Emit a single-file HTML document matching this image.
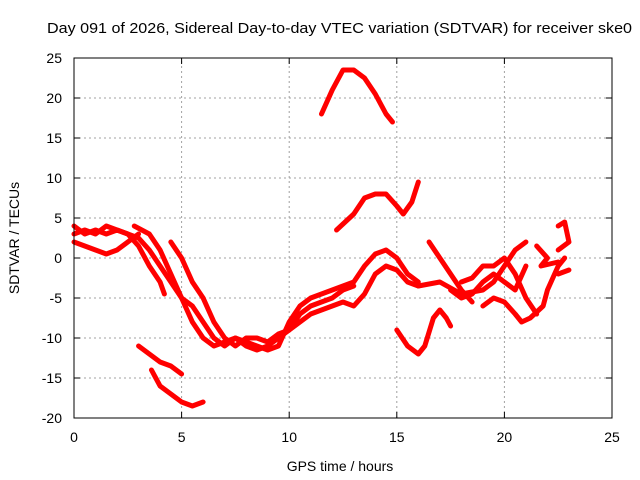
<!DOCTYPE html>
<html><head><meta charset="utf-8"><style>
body{margin:0;background:#fff}
svg{display:block;font-family:"Liberation Sans",sans-serif}
</style></head><body>
<svg id="c" width="640" height="480">
<text x="47" y="33" font-size="15" textLength="585" lengthAdjust="spacingAndGlyphs">Day 091 of 2026, Sidereal Day-to-day VTEC variation (SDTVAR) for receiver ske0</text>
<text x="340" y="471" text-anchor="middle" font-size="14">GPS time / hours</text>
<text transform="translate(19,238) rotate(-90)" text-anchor="middle" font-size="14">SDTVAR / TECUs</text>
<g id="grid"></g><g id="series"></g><g id="axes"></g>
</svg>
<script>
const xTicks=[0,5,10,15,20,25];
const yTicks=[25,20,15,10,5,0,-5,-10,-15,-20];
const s1=[[0,2],[0.5,1.5],[1,1],[1.5,0.5],[2,1],[2.5,2],[3,3]];
const s2=[[0,4],[0.5,3],[1,3.5],[1.5,3],[2,3.5],[2.5,3],[3,2.5],[3.5,1],[4,-1],[4.5,-3],[5,-5],[5.5,-6],[6,-8],[6.5,-10],[7,-11],[7.5,-10],[8,-11],[8.5,-11.5],[9,-11],[9.5,-10],[10,-9],[10.5,-8],[11,-7],[11.5,-6.5],[12,-6],[12.5,-5.5],[13,-6],[13.5,-4.5],[14,-2],[14.5,-1],[15,-1.5],[15.5,-3],[16,-3.5]];
const s3=[[0,3],[0.5,3.5],[1,3],[1.5,4],[2,3.5],[2.5,3],[3,1.5],[3.5,-1],[4,-3],[4.2,-4.5]];
const s4=[[2.8,4],[3.5,3],[4,1],[4.5,-2],[5,-5],[5.5,-8],[6,-10],[6.5,-11],[7,-10.5],[7.5,-10],[8,-10.5],[8.5,-11],[9,-11.5],[9.5,-11],[10,-8],[10.5,-6],[11,-5],[12,-4],[13,-3],[13.5,-1],[14,0.5],[14.5,1],[15,0],[15.5,-2],[16,-3]];
const s5=[[4.5,2],[5,0],[5.5,-3],[6,-5],[6.5,-8],[7,-10],[7.5,-11],[8,-10],[8.5,-10],[9,-10.5],[9.5,-9.5],[10,-9],[10.5,-7],[11,-6],[11.5,-5.5],[12,-5],[12.5,-4],[13,-3.5]];
const s6=[[3,-11],[3.5,-12],[4,-13],[4.5,-13.5],[5,-14.5]];
const s7=[[3.6,-14],[4,-16],[4.5,-17],[5,-18],[5.5,-18.5],[6,-18]];
const s8=[[11.5,18],[12,21],[12.5,23.5],[13,23.5],[13.5,22.5],[14,20.5],[14.5,18],[14.8,17]];
const s9=[[12.2,3.5],[13,5.5],[13.5,7.5],[14,8],[14.5,8],[15,6.5],[15.3,5.5],[15.7,7],[16,9.5]];
const s10=[[15,-9],[15.5,-11],[16,-12],[16.3,-11],[16.7,-7.5],[17,-6.5],[17.3,-7.5],[17.5,-8.5]];
const s11=[[16.5,2],[17,0],[17.5,-2],[18,-4],[18.5,-5.5]];
const s12=[[16,-3.5],[17,-3],[18,-4.5],[19,-4],[19.5,-3],[20,-1],[20.5,1],[21,2]];
const s13=[[18,-3],[18.5,-2.5],[19,-1],[19.5,-1],[20,0],[20.5,-2],[21,-5],[21.5,-7]];
const s14=[[19,-6],[19.5,-5],[20,-5.5],[20.5,-7],[20.8,-8],[21.2,-7.5],[21.8,-6],[22,-4],[22.5,-1],[22.8,0]];
const s15=[[22.5,4],[22.8,4.5],[23,2],[22.5,1]];
const s16=[[21.5,1.5],[22,0],[21.7,-1],[22.5,-0.5]];
const s17=[[22.5,-2],[23,-1.5]];
const s18=[[17.5,-4],[18,-5],[18.5,-4.5],[19,-3],[19.5,-2],[20,-3],[20.5,-4],[21,-1]];
const seriesList=[s1,s2,s3,s4,s5,s6,s7,s8,s9,s10,s11,s12,s13,s14,s15,s16,s17,s18];
const X0=74,X1=612,Y0=418,Y1=58;
const sx=v=>X0+(v-0)/25*(X1-X0);
const sy=v=>Y0-(v+20)/45*(Y0-Y1);
const NS="http://www.w3.org/2000/svg";
const mk=(t,a,p)=>{const e=document.createElementNS(NS,t);for(const k in a)e.setAttribute(k,a[k]);p.appendChild(e);return e;};
const grid=document.getElementById('grid'),axes=document.getElementById('axes'),ser=document.getElementById('series');
xTicks.forEach(t=>{
 if(t>0&&t<25){const l=mk('line',{x1:sx(t),x2:sx(t),y1:Y0,y2:Y1,stroke:'#a0a0a0','stroke-dasharray':'2,3'},grid);
 
 }
 const tx=mk('text',{x:sx(t),y:Y0+24,'text-anchor':'middle','font-size':14},axes);tx.textContent=t;
 
 
 mk('line',{x1:sx(t),x2:sx(t),y1:Y0,y2:Y0-6,stroke:'#000'},axes);
 mk('line',{x1:sx(t),x2:sx(t),y1:Y1,y2:Y1+6,stroke:'#000'},axes);
});
yTicks.forEach(t=>{
 if(t>-20&&t<25){const l=mk('line',{x1:X0,x2:X1,y1:sy(t),y2:sy(t),stroke:'#a0a0a0','stroke-dasharray':'2,3'},grid);
 
 }
 const tx=mk('text',{x:X0-12,y:sy(t)+5,'text-anchor':'end','font-size':14},axes);tx.textContent=t;
 
 
 mk('line',{x1:X0,x2:X0+6,y1:sy(t),y2:sy(t),stroke:'#000'},axes);
 mk('line',{x1:X1,x2:X1-6,y1:sy(t),y2:sy(t),stroke:'#000'},axes);
});
const fr=mk('rect',{x:X0,y:Y1,width:X1-X0,height:Y0-Y1,fill:'none',stroke:'#000'},axes);


seriesList.forEach((s,i)=>{
 const p=mk('polyline',{points:s.map(d=>sx(d[0])+','+sy(d[1])).join(' '),fill:'none',stroke:'#f00','stroke-width':5,'stroke-linejoin':'round','stroke-linecap':'round'},ser);
 
 
});
</script>
</body></html>
